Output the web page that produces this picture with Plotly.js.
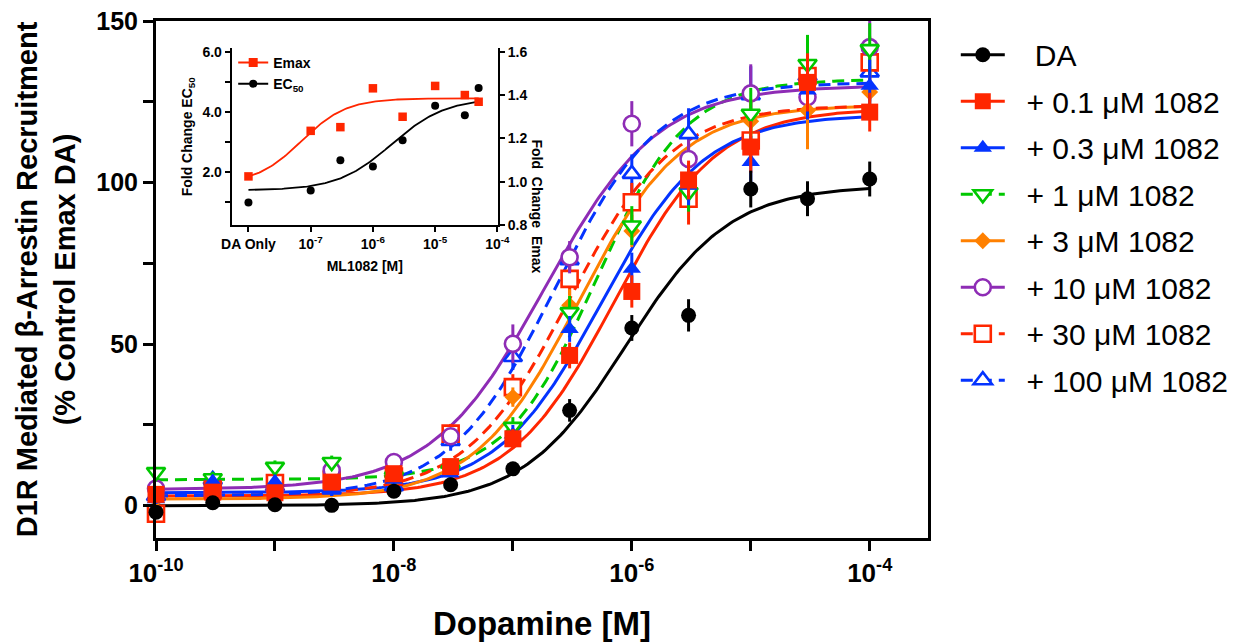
<!DOCTYPE html>
<html>
<head>
<meta charset="utf-8">
<script src="https://cdn.plot.ly/plotly-3.0.1.min.js"></script>
<style>html,body{margin:0;padding:0;background:#fff;}#chart{width:1235px;height:642px;}</style>
</head>
<body>
<div id="chart"></div>
<script>
// ---------- Main panel data ----------
const doseM = [1e-10, 3e-10, 1e-9, 3e-9, 1e-8, 3e-8, 1e-7, 3e-7, 1e-6, 3e-6, 1e-5, 3e-5, 1e-4];
const seriesNames = ['\u00a0\u00a0\u00a0DA', '\u00a0\u00a0+ 0.1 \u03bcM 1082', '\u00a0\u00a0+ 0.3 \u03bcM 1082', '\u00a0\u00a0+ 1 \u03bcM 1082', '\u00a0\u00a0+ 3 \u03bcM 1082', '\u00a0\u00a0+ 10 \u03bcM 1082', '\u00a0\u00a0+ 30 \u03bcM 1082', '\u00a0\u00a0+ 100 \u03bcM 1082'];

const yDA     = [-2.0, 0.9, 0.3, 0.1, 4.5, 6.5, 11.4, 29.5, 55.0, 58.9, 98.0, 95.0, 101.1];
const eDA     = [1, 1, 1, 1, 1.5, 1.5, 1.5, 3.5, 4, 5, 5.7, 5.4, 5.4];
const y01     = [3.5, 4.2, 4.0, 7.3, 9.9, 12.1, 20.7, 46.5, 66.3, 100.8, 111.0, 131.0, 121.8];
const e01     = [1.5, 1.5, 2, 2, 2, 2, 3, 4, 5, 6, 8, 9, 6];
const y03     = [2.0, 7.5, 7.4, 5.0, 8.0, 10.0, 22.0, 54.7, 73.3, 99.0, 106.4, 128.5, 130.0];
const e03     = [1.5, 2, 2, 2, 2, 2, 3, 4, 5, 6, 8, 9, 8];
const y1      = [10.4, 8.5, 12.0, 13.5, 9.0, 11.0, 24.4, 59.9, 86.7, 97.0, 121.3, 136.7, 141.3];
const e1      = [1.5, 2, 2, 2, 2, 2, 3, 5, 6, 6, 8, 9, 8];
const y3      = [2.0, 3.0, 4.0, 6.0, 8.0, 12.0, 33.6, 62.0, 85.0, 100.0, 119.0, 122.3, 128.0];
const e3      = [1.5, 1.5, 1.5, 2, 2, 2, 3, 5, 5, 6, 7, 12, 8];
const y10     = [5.3, 4.0, 5.0, 11.0, 13.5, 21.5, 50.1, 76.9, 118.2, 107.3, 127.6, 126.4, 141.9];
const e10     = [1.5, 1.5, 2, 2, 2, 2, 6, 5, 7, 6, 9, 8, 9];
const y30     = [-2.5, 5.0, 7.0, 8.0, 9.0, 22.3, 36.7, 70.2, 93.9, 95.0, 113.0, 133.0, 137.2];
const e30     = [1.5, 2, 2, 2, 2, 3, 4, 5, 6, 8, 8, 9, 8];
const y100    = [3.0, 8.0, 6.0, 5.0, 6.0, 20.0, 46.0, 76.0, 102.7, 115.0, 127.0, 133.0, 134.1];
const e100    = [1.5, 2, 2, 2, 2, 3, 4, 5, 6, 8, 9, 9, 9];

// Sigmoidal fit parameters
const fitBottom  = [0, 3, 4, 8, 2, 5, 3, 3];
const fitTop     = [99, 123, 121, 132, 124, 130, 124, 131];
const fitLogEC50 = [-6.05, -6.15, -6.26, -6.30, -6.45, -6.73, -6.53, -6.65];
const fitHill    = [1.0, 1.0, 1.0, 1.15, 1.0, 0.92, 1.0, 1.0];

const xTickVals = [1e-10, 1e-8, 1e-6, 1e-4];
const xTickText = ['10<sup>-10</sup>', '10<sup>-8</sup>', '10<sup>-6</sup>', '10<sup>-4</sup>'];
const xMinorVals = [1e-9, 1e-7, 1e-5];
const yTickVals = [0, 50, 100, 150];
const yTickText = ['0', '50', '100', '150'];
const yMinorVals = [25, 75, 125];

// ---------- Inset data ----------
const insetConc  = [1e-8, 1e-7, 3e-7, 1e-6, 3e-6, 1e-5, 3e-5, 5e-5]; // first point = "DA Only"
const ec50Fold   = [0.98, 1.38, 2.38, 2.18, 3.05, 4.20, 3.88, 4.79];
const emaxFold   = [1.025, 1.235, 1.252, 1.431, 1.30, 1.442, 1.40, 1.369];
const insetFitEmax = {bottom: 0.99, top: 1.385, logEC50: -7.15, hill: 1.2};
const insetFitEC50 = {bottom: 1.38, top: 4.45, logEC50: -5.7, hill: 1.0};
const insetXTickVals = [1e-8, 1e-7, 1e-6, 1e-5, 1e-4];
const insetXTickText = ['DA Only', '10<sup>-7</sup>', '10<sup>-6</sup>', '10<sup>-5</sup>', '10<sup>-4</sup>'];
const insetLeftTickVals = [2, 4, 6];
const insetLeftTickText = ['2.0', '4.0', '6.0'];
const insetLeftMinor = [1, 3, 5];
const insetRightTickVals = [0.8, 1.0, 1.2, 1.4, 1.6];
const insetRightTickText = ['0.8', '1.0', '1.2', '1.4', '1.6'];

// ---------- Styles ----------
const FONT = 'Liberation Sans, Arial, Helvetica, sans-serif';
const colors = ['#000000', '#FF2600', '#0433FF', '#00C800', '#FF8000', '#8E2CB5', '#FF2600', '#0433FF'];
const symbols = ['circle', 'square', 'triangle-up', 'triangle-down', 'diamond', 'circle', 'square', 'triangle-up'];
const hollow = [false, false, false, true, false, true, true, true];
const msize = [15, 17, 16, 16, 13, 16, 16, 16];
const dashes = ['solid', 'solid', 'solid', '12px,7px', 'solid', 'solid', '12px,7px', '12px,7px'];
const yData = [yDA, y01, y03, y1, y3, y10, y30, y100];
const eData = [eDA, e01, e03, e1, e3, e10, e30, e100];

function curve(b, t, l, h, lo, hi, n) {
  const xs = [], ys = [];
  for (let i = 0; i <= n; i++) {
    const lx = lo + (hi - lo) * i / n;
    xs.push(Math.pow(10, lx));
    ys.push(b + (t - b) / (1 + Math.pow(10, (l - lx) * h)));
  }
  return {xs, ys};
}
function mk(i, sz) {
  return {symbol: symbols[i], size: sz, color: hollow[i] ? '#ffffff' : colors[i],
          line: {color: colors[i], width: hollow[i] ? 2.6 : 0}};
}

const traces = [];
for (let i = 0; i < 8; i++) {
  const c = curve(fitBottom[i], fitTop[i], fitLogEC50[i], fitHill[i], -10, -4, 240);
  traces.push({x: c.xs, y: c.ys, mode: 'lines', type: 'scatter', showlegend: false, hoverinfo: 'skip',
    line: {color: colors[i], width: 3, dash: dashes[i]}, cliponaxis: false});
}
for (let i = 7; i >= 0; i--) {
  traces.push({x: doseM, y: yData[i], mode: 'markers', type: 'scatter', showlegend: false, cliponaxis: false,
    error_y: {type: 'data', array: eData[i], visible: true, color: colors[i], thickness: 3, width: 0},
    marker: mk(i, msize[i])});
}
for (let i = 0; i < 8; i++) {
  traces.push({x: [null], y: [null], mode: 'lines+markers', type: 'scatter', name: seriesNames[i], legendgroup: 'g' + i,
    line: {color: colors[i], width: 3, dash: dashes[i]}, marker: mk(i, msize[i])});
}

const ce = curve(insetFitEmax.bottom, insetFitEmax.top, insetFitEmax.logEC50, insetFitEmax.hill, -8, -4.3, 150);
const cc = curve(insetFitEC50.bottom, insetFitEC50.top, insetFitEC50.logEC50, insetFitEC50.hill, -8, -4.3, 150);
traces.push({x: ce.xs, y: ce.ys, xaxis: 'x2', yaxis: 'y3', mode: 'lines', showlegend: false, line: {color: '#FF2600', width: 1.8}});
traces.push({x: cc.xs, y: cc.ys, xaxis: 'x2', yaxis: 'y2', mode: 'lines', showlegend: false, line: {color: '#000000', width: 1.8}});
traces.push({x: insetConc, y: emaxFold, xaxis: 'x2', yaxis: 'y3', mode: 'markers', showlegend: false, cliponaxis: false,
  marker: {symbol: 'square', size: 8.5, color: '#FF2600'}});
traces.push({x: insetConc, y: ec50Fold, xaxis: 'x2', yaxis: 'y2', mode: 'markers', showlegend: false, cliponaxis: false,
  marker: {symbol: 'circle', size: 8, color: '#000000'}});
traces.push({x: [null], y: [null], xaxis: 'x2', yaxis: 'y2', mode: 'lines+markers', name: 'Emax', legend: 'legend2',
  line: {color: '#FF2600', width: 2}, marker: {symbol: 'square', size: 9, color: '#FF2600'}});
traces.push({x: [null], y: [null], xaxis: 'x2', yaxis: 'y2', mode: 'lines+markers', name: 'EC<sub>50</sub>', legend: 'legend2',
  line: {color: '#000000', width: 2}, marker: {symbol: 'circle', size: 8, color: '#000000'}});

const axLine = {showline: true, linecolor: '#000', showgrid: false, zeroline: false, ticks: 'outside', tickcolor: '#000', tickmode: 'array'};

const layout = {
  width: 1235, height: 642,
  margin: {l: 156, r: 307, t: 21, b: 104, pad: 0, autoexpand: false},
  paper_bgcolor: '#ffffff', plot_bgcolor: 'rgba(0,0,0,0)',
  font: {family: FONT, color: '#000000'},
  showlegend: true,
  xaxis: Object.assign({}, axLine, {type: 'log', range: [-10, -3.51], domain: [0, 1], anchor: 'y',
    linewidth: 3, mirror: true, ticklen: 10, tickwidth: 3, automargin: false,
    tickvals: xTickVals, ticktext: xTickText,
    minor: {tickmode: 'array', tickvals: xMinorVals, ticks: 'outside', ticklen: 10, tickwidth: 3, tickcolor: '#000', showgrid: false},
    tickfont: {family: FONT, size: 26, weight: 'bold'},
    title: {text: 'Dopamine [M]', font: {family: FONT, size: 33, weight: 'bold'}, standoff: 25}}),
  yaxis: Object.assign({}, axLine, {range: [-10, 150], domain: [0, 1], anchor: 'x',
    linewidth: 3, mirror: true, ticklen: 10, tickwidth: 3, automargin: false,
    tickvals: yTickVals, ticktext: yTickText,
    minor: {tickmode: 'array', tickvals: yMinorVals, ticks: 'outside', ticklen: 10, tickwidth: 3, tickcolor: '#000', showgrid: false},
    tickfont: {family: FONT, size: 25, weight: 'bold'},
    title: {text: 'D1R Mediated \u03b2-Arrestin Recruitment<br>(% Control Emax DA)', font: {family: FONT, size: 29, weight: 'bold'}, standoff: 13}}),
  xaxis2: Object.assign({}, axLine, {type: 'log', range: [-8.27, -3.99], domain: [0.098, 0.443], anchor: 'y2',
    linewidth: 2, ticklen: 5, tickwidth: 2, automargin: false,
    tickvals: insetXTickVals, ticktext: insetXTickText,
    tickfont: {family: FONT, size: 14, weight: 'bold'},
    title: {text: 'ML1082 [M]', font: {family: FONT, size: 14, weight: 'bold'}, standoff: 10}}),
  yaxis2: Object.assign({}, axLine, {range: [0.22, 6.11], domain: [0.605, 0.947], anchor: 'x2',
    linewidth: 2, ticklen: 5, tickwidth: 2, automargin: false,
    tickvals: insetLeftTickVals, ticktext: insetLeftTickText,
    minor: {tickmode: 'array', tickvals: insetLeftMinor, ticks: 'outside', ticklen: 5, tickwidth: 2, tickcolor: '#000', showgrid: false},
    tickfont: {family: FONT, size: 14, weight: 'bold'},
    title: {text: 'Fold Change EC<sub>50</sub>', font: {family: FONT, size: 14, weight: 'bold'}, standoff: 6}}),
  yaxis3: Object.assign({}, axLine, {range: [0.8, 1.615], overlaying: 'y2', side: 'right', anchor: 'x2',
    linewidth: 2, ticklen: 5, tickwidth: 2, automargin: false,
    tickvals: insetRightTickVals, ticktext: insetRightTickText,
    tickfont: {family: FONT, size: 14, weight: 'bold'}}),
  legend: {x: 1.036, y: 0.985, xanchor: 'left', yanchor: 'top', bgcolor: 'rgba(0,0,0,0)',
    font: {family: FONT, size: 30, color: '#000'}, itemwidth: 44, tracegroupgap: 4.5, traceorder: 'grouped'},
  legend2: {x: 0.1, y: 0.95, xanchor: 'left', yanchor: 'top', bgcolor: 'rgba(0,0,0,0)',
    font: {family: FONT, size: 14, color: '#000', weight: 'bold'}, itemwidth: 30, traceorder: 'normal'},
  annotations: [
    {text: 'Fold\u00a0\u00a0Change\u00a0\u00a0Emax', xref: 'paper', yref: 'paper', x: 0.494, y: 0.774, textangle: 90,
      showarrow: false, font: {family: FONT, size: 14, weight: 'bold'}}
  ]
};

Plotly.newPlot('chart', traces, layout, {staticPlot: true, displayModeBar: false});
</script>
</body>
</html>
